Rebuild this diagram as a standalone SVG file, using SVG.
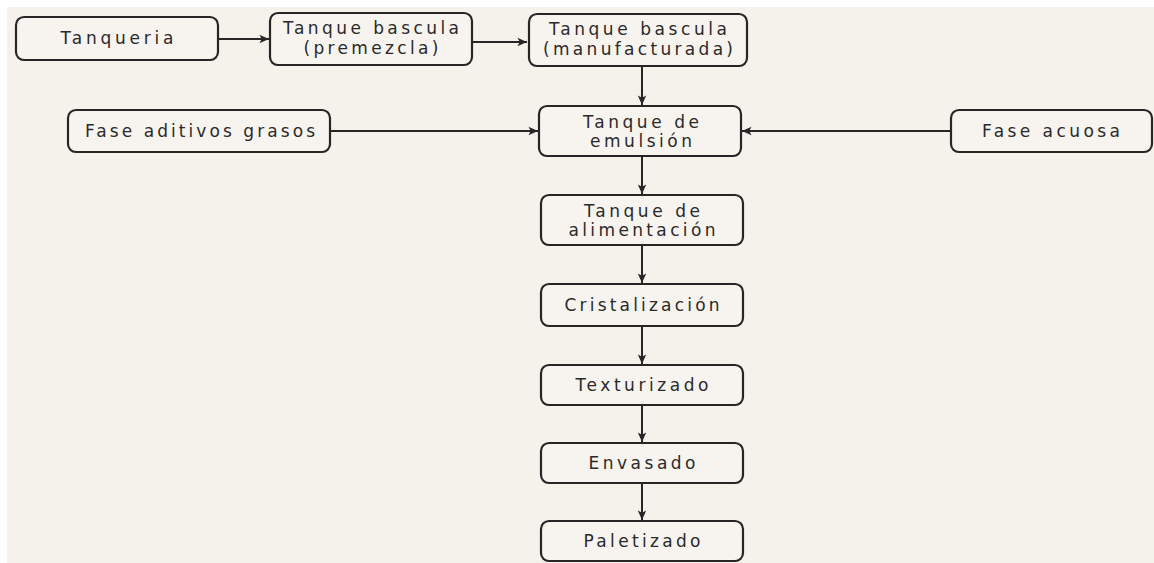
<svg xmlns="http://www.w3.org/2000/svg" width="1154" height="563" viewBox="0 0 1154 563">
  <style>
    .box { fill: #f7f4ef; stroke: #262626; stroke-width: 2.2; }
    .lbl { font-family: "DejaVu Sans", "Open Sans", sans-serif; font-size: 17px; fill: #2a2a2a; text-anchor: middle; font-variant-ligatures: none; }
    .edge { fill: none; stroke: #262626; stroke-width: 2; }
  </style>
  <defs>
    <marker id="arr" markerUnits="userSpaceOnUse" markerWidth="12" markerHeight="12" viewBox="0 0 10 10" refX="9" refY="5" orient="auto">
      <path d="M1,1.5 L9,5 L1,8.5 L3,5 Z" fill="#262626"/>
    </marker>
  </defs>
  <rect x="0" y="0" width="1154" height="563" fill="#ffffff"/>
  <rect x="7" y="7" width="1147" height="556" fill="#f5f1eb"/>

  <g id="connectors">
    <line class="edge" x1="218" y1="39" x2="269" y2="39" marker-end="url(#arr)"/>
    <line class="edge" x1="472" y1="42" x2="527" y2="42" marker-end="url(#arr)"/>
    <line class="edge" x1="642" y1="66" x2="642" y2="105" marker-end="url(#arr)"/>
    <line class="edge" x1="330" y1="131" x2="538" y2="131" marker-end="url(#arr)"/>
    <line class="edge" x1="951" y1="131" x2="742" y2="131" marker-end="url(#arr)"/>
    <line class="edge" x1="642" y1="156" x2="642" y2="194" marker-end="url(#arr)"/>
    <line class="edge" x1="642" y1="245" x2="642" y2="283" marker-end="url(#arr)"/>
    <line class="edge" x1="642" y1="326" x2="642" y2="364" marker-end="url(#arr)"/>
    <line class="edge" x1="642" y1="405" x2="642" y2="442" marker-end="url(#arr)"/>
    <line class="edge" x1="642" y1="483" x2="642" y2="520" marker-end="url(#arr)"/>
  </g>

  <g id="tanqueria">
    <rect class="box" x="16" y="17" width="202" height="43" rx="8"/>
    <text class="lbl" x="117" y="44" textLength="113" lengthAdjust="spacing">Tanqueria</text>
  </g>
  <g id="premezcla">
    <rect class="box" x="270" y="13" width="202" height="52" rx="8"/>
    <text class="lbl" x="371" y="34" textLength="176" lengthAdjust="spacing">Tanque bascula</text>
    <text class="lbl" x="371" y="54" textLength="135" lengthAdjust="spacing">(premezcla)</text>
  </g>
  <g id="manufacturada">
    <rect class="box" x="529" y="14" width="218" height="52" rx="8"/>
    <text class="lbl" x="638" y="35" textLength="178" lengthAdjust="spacing">Tanque bascula</text>
    <text class="lbl" x="638" y="55" textLength="190" lengthAdjust="spacing">(manufacturada)</text>
  </g>
  <g id="aditivos">
    <rect class="box" x="68" y="110" width="262" height="42" rx="8"/>
    <text class="lbl" x="200" y="137" textLength="230" lengthAdjust="spacing">Fase aditivos grasos</text>
  </g>
  <g id="emulsion">
    <rect class="box" x="539" y="106" width="202" height="50" rx="8"/>
    <text class="lbl" x="641" y="128" textLength="116" lengthAdjust="spacing">Tanque de</text>
    <text class="lbl" x="641" y="147" textLength="102" lengthAdjust="spacing">emulsión</text>
  </g>
  <g id="acuosa">
    <rect class="box" x="951" y="110" width="201" height="42" rx="8"/>
    <text class="lbl" x="1051" y="137" textLength="138" lengthAdjust="spacing">Fase acuosa</text>
  </g>
  <g id="alimentacion">
    <rect class="box" x="541" y="195" width="202" height="50" rx="8"/>
    <text class="lbl" x="642" y="217" textLength="116" lengthAdjust="spacing">Tanque de</text>
    <text class="lbl" x="642" y="236" textLength="147" lengthAdjust="spacing">alimentación</text>
  </g>
  <g id="cristalizacion">
    <rect class="box" x="541" y="284" width="202" height="42" rx="8"/>
    <text class="lbl" x="642" y="311" textLength="155" lengthAdjust="spacing">Cristalización</text>
  </g>
  <g id="texturizado">
    <rect class="box" x="541" y="365" width="202" height="40" rx="8"/>
    <text class="lbl" x="642" y="391" textLength="133" lengthAdjust="spacing">Texturizado</text>
  </g>
  <g id="envasado">
    <rect class="box" x="541" y="443" width="202" height="40" rx="8"/>
    <text class="lbl" x="642" y="469" textLength="107" lengthAdjust="spacing">Envasado</text>
  </g>
  <g id="paletizado">
    <rect class="box" x="541" y="521" width="202" height="40" rx="8"/>
    <text class="lbl" x="642" y="547" textLength="117" lengthAdjust="spacing">Paletizado</text>
  </g>
</svg>
